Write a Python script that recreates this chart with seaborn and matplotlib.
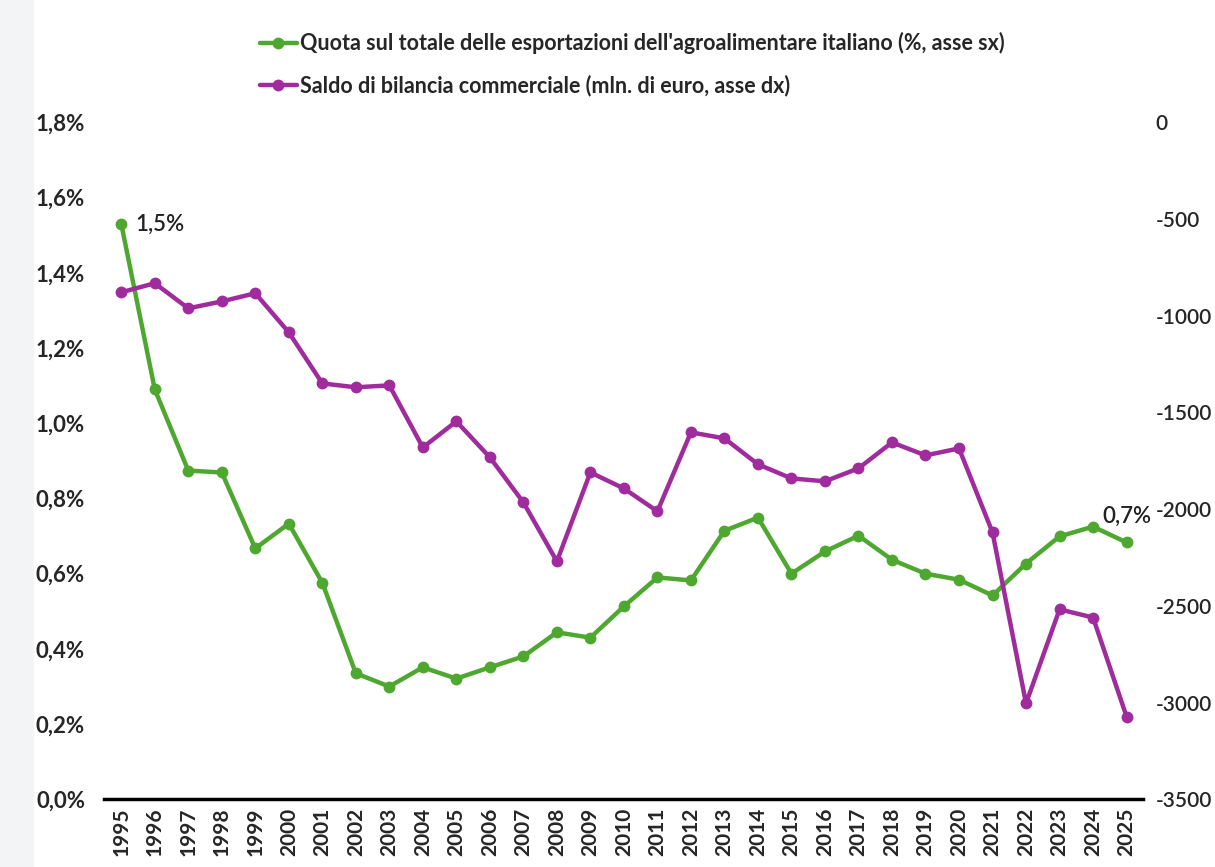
import numpy as np
import pandas as pd
import seaborn as sns
import matplotlib.pyplot as plt
from matplotlib.ticker import FuncFormatter
from matplotlib.patches import Rectangle

years = list(range(1995, 2026))

# quota sulle esportazioni agroalimentari (%), asse sx
quota = [1.53, 1.09, 0.874, 0.869, 0.667, 0.733, 0.576, 0.335, 0.300, 0.351,
         0.321, 0.351, 0.380, 0.444, 0.430, 0.513, 0.590, 0.582, 0.714, 0.749,
         0.600, 0.659, 0.701, 0.637, 0.600, 0.584, 0.542, 0.627, 0.699, 0.725,
         0.683]

# saldo di bilancia commerciale (mln euro), asse dx
saldo = [-879, -832, -962, -926, -884, -1086, -1350, -1370, -1360, -1681,
         -1546, -1732, -1965, -2270, -1810, -1893, -2011, -1603, -1634, -1768,
         -1841, -1856, -1789, -1655, -1722, -1686, -2120, -3004, -2518, -2560,
         -3072]

lab_quota = "Quota sul totale delle esportazioni dell'agroalimentare italiano (%, asse sx)"
lab_saldo = "Saldo di bilancia commerciale (mln. di euro, asse dx)"

GREEN = "#4ea72e"
PURPLE = "#a02b9c"

sns.set_style("white")
plt.rcParams['font.family'] = ['Lato', 'DejaVu Sans']
plt.rcParams['axes.unicode_minus'] = False

df = pd.DataFrame({"anno": years, "quota": quota, "saldo": saldo})

fig = plt.figure(figsize=(12.15, 8.67), dpi=100)
# striscia grigia a sinistra (ritaglio della pagina)
fig.patches.append(Rectangle((0, 0), 0.027, 1, transform=fig.transFigure,
                             color="#f3f4f6", zorder=0))
ax = fig.add_axes([0.086, 0.078, 0.855, 0.781])
ax2 = ax.twinx()

sns.lineplot(data=df, x="anno", y="quota", ax=ax, color=GREEN, lw=3.2,
             marker="o", markersize=8.5, markeredgewidth=0, label=lab_quota, legend=False)
sns.lineplot(data=df, x="anno", y="saldo", ax=ax2, color=PURPLE, lw=3.2,
             marker="o", markersize=8.5, markeredgewidth=0, label=lab_saldo, legend=False)

ax.set_xlim(1994.5, 2025.5)
ax.set_ylim(0, 1.8)
ax2.set_ylim(-3500, 0)
ax.set_yticks(np.arange(0, 1.81, 0.2))
ax2.set_yticks(range(-3500, 1, 500))
ax.yaxis.set_major_formatter(FuncFormatter(lambda v, p: f"{v:.1f}%".replace(".", ",")))
ax2.yaxis.set_major_formatter(FuncFormatter(lambda v, p: f"{int(v)}"))
ax.set_xticks(years)
ax.set_xticklabels([str(y) for y in years], rotation=90, fontsize=15, fontweight="bold")
ax.set_xlabel("")
ax.set_ylabel("")
ax2.set_ylabel("")

for a in (ax, ax2):
    for s in ("top", "left", "right", "bottom"):
        a.spines[s].set_visible(False)
    a.tick_params(length=0)
ax.spines["bottom"].set_visible(True)
ax.spines["bottom"].set_linewidth(2.5)
ax.spines["bottom"].set_color("black")

ax.tick_params(axis="y", labelsize=16, pad=14)
ax2.tick_params(axis="y", labelsize=15, pad=9)
ax.tick_params(axis="x", pad=6)
for t in ax.get_yticklabels():
    t.set_fontweight("bold")
for t in ax2.get_yticklabels():
    t.set_fontweight("semibold")

# etichette dei valori estremi
ax.annotate("1,5%", (years[0], quota[0]), xytext=(10, 0), textcoords="offset points",
            fontsize=16, fontweight="semibold", va="center", ha="left", color="#222222")
ax.annotate("0,7%", (years[-1], quota[-1]), xytext=(0, 19), textcoords="offset points",
            fontsize=16, fontweight="semibold", va="center", ha="center", color="#222222")

h1, l1 = ax.get_legend_handles_labels()
h2, l2 = ax2.get_legend_handles_labels()
fig.legend(h1 + h2, l1 + l2, loc="upper left", bbox_to_anchor=(0.198, 0.985),
           frameon=False, prop={"weight": "bold", "size": 15.5},
           handlelength=1.7, handletextpad=0.15, labelspacing=0.95)

fig.savefig("out.png", dpi=100)
